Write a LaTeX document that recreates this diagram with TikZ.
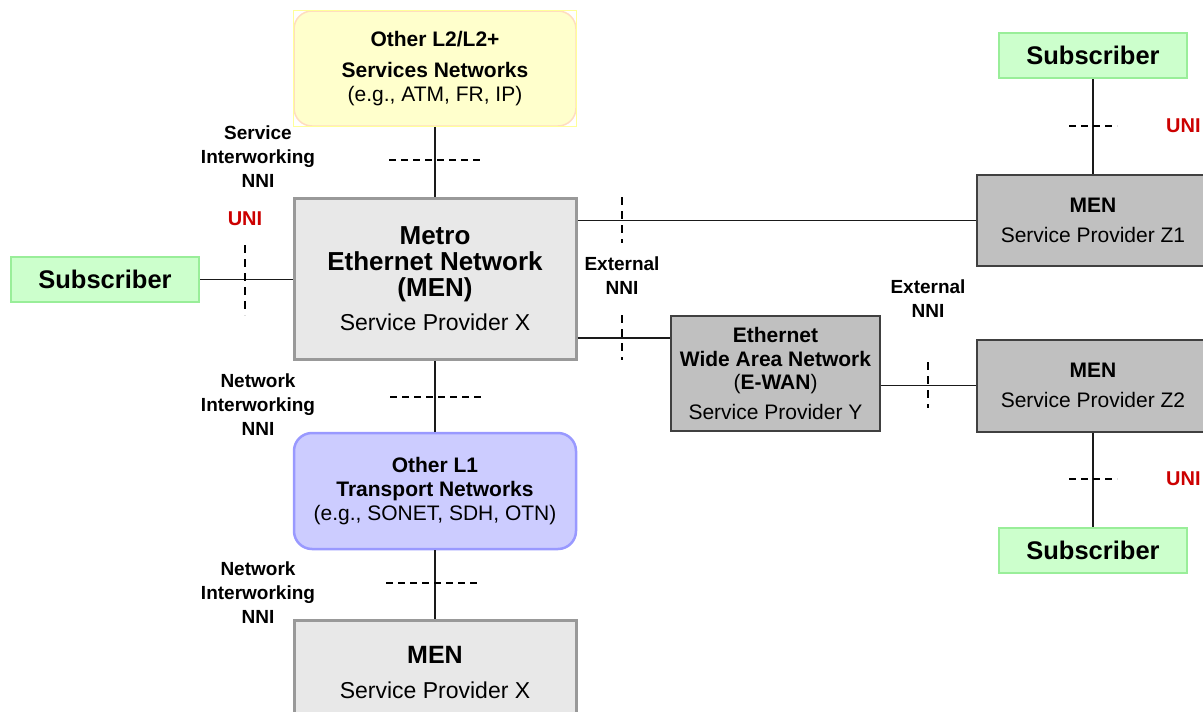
\documentclass[tikz,border=0pt]{standalone}
\usepackage{fontspec}
\setmainfont{Liberation Sans}
\definecolor{menfill}{HTML}{E8E8E8}
\definecolor{menline}{HTML}{999999}
\definecolor{spfill}{HTML}{C0C0C0}
\definecolor{spline}{HTML}{404040}
\definecolor{subfill}{HTML}{CCFFCC}
\definecolor{subline}{HTML}{99EE99}
\definecolor{l2fill}{HTML}{FFFFCC}
\definecolor{l2line}{HTML}{FFDDC0}
\definecolor{l2frame}{HTML}{FFFF99}
\definecolor{l1fill}{HTML}{CCCCFF}
\definecolor{l1line}{HTML}{9999FF}
\definecolor{unired}{HTML}{CC0000}
\definecolor{linkline}{HTML}{1A1A1A}
\begin{document}
\begin{tikzpicture}[x=1pt,y=-1pt,line width=1.6pt,
  font=\fontsize{21}{23.5}\selectfont,
  netbox/.style={align=center,inner sep=0pt,minimum width=282pt},
  menbox/.style={netbox,draw=menline,fill=menfill,line width=3pt},
  l2box/.style={netbox,draw=l2line,fill=l2fill,line width=1.5pt,
    rounded corners=18pt,minimum height=115pt},
  l1box/.style={netbox,draw=l1line,fill=l1fill,line width=2.5pt,
    rounded corners=18pt,minimum height=116pt},
  spbox/.style={draw=spline,fill=spfill,line width=2pt,align=center,inner sep=0pt},
  subbox/.style={draw=subline,fill=subfill,line width=2pt,minimum width=188pt,
    minimum height=45pt,font=\fontsize{25.5}{28}\selectfont\bfseries},
  iflabel/.style={align=center,font=\fontsize{19}{24}\selectfont\bfseries},
  unilabel/.style={iflabel,text=unired,font=\fontsize{20}{24}\selectfont\bfseries},
  link/.style={draw=linkline,line width=1.8pt},
  ifmark/.style={line width=1.5pt,dash pattern=on 7pt off 5pt},
  ifmarkv/.style={line width=2pt,dash pattern=on 8pt off 6pt}]
  \useasboundingbox (0,0) rectangle (1203,712);

  % provider X and the networks stacked on it
  \node[l2box] (l2) at (435,68.5)
    {\textbf{Other L2/L2+}\\[7.5pt]\textbf{Services Networks}\\(e.g., ATM, FR, IP)};
  \draw[line width=1pt,l2frame] (l2.south west) rectangle (l2.north east);
  \node[menbox,minimum height=161pt,font=\fontsize{26}{26}\selectfont] (menx) at (435,279)
    {\textbf{Metro}\\\textbf{Ethernet Network}\\\textbf{(MEN)}\\[8pt]%
     {\fontsize{23}{23}\selectfont Service Provider X}};
  \node[l1box,font=\fontsize{21}{24}\selectfont] (l1) at (435,491)
    {\textbf{Other L1}\\\textbf{Transport Networks}\\(e.g., SONET, SDH, OTN)};
  \node[menbox,minimum height=105pt] (menxb) at (435,672.5)
    {\fontsize{25}{25}\selectfont\textbf{MEN}\\[12pt]%
     \fontsize{23}{23}\selectfont Service Provider X};
  \node[subbox] (subx) at (105,279.5) {Subscriber};

  % providers Y, Z1, Z2
  \node[spbox,minimum width=209pt,minimum height=115pt] (ewan) at (775.5,373.5)
    {\textbf{Ethernet}\\\textbf{Wide Area Network}\\(\textbf{E-WAN})\\[6pt]Service Provider Y};
  \node[spbox,minimum width=232pt,minimum height=91pt] (menz1) at (1093,220.5)
    {\textbf{MEN}\\[6.5pt]Service Provider Z1};
  \node[spbox,minimum width=232pt,minimum height=92pt] (menz2) at (1093,385.5)
    {\textbf{MEN}\\[6.5pt]Service Provider Z2};
  \node[subbox] (subz1) at (1093,55.5) {Subscriber};
  \node[subbox] (subz2) at (1093,550.5) {Subscriber};

  % links
  \coordinate (ewanlink) at (622,338);
  \draw[link] (l2) -- (menx);
  \draw[link] (menx) -- (l1);
  \draw[link] (l1) -- (menxb);
  \draw[link] (subx.east) -- (subx.east -| menx.west);
  \draw[link] (menx.east |- menz1) -- (menz1.west);
  \draw[link] (menx.east |- ewanlink) -- (ewan.west |- ewanlink);
  \draw[link] (ewan.east |- menz2) -- (menz2.west);
  \draw[link] (subz1) -- (menz1);
  \draw[link] (menz2) -- (subz2);

  % interface marks
  \foreach \y/\xa/\xb in {160/389/484,397/390/485,583/386/481,126/1069/1117,479/1069/1117}
    \draw[ifmark] (\xa,\y) -- (\xb,\y);
  \foreach \x/\ya/\yb in {245/245/315,622/197/243,622/315/360,928/362/408}
    \draw[ifmarkv] (\x,\ya) -- (\x,\yb);

  \node[iflabel] (sinni) at (258,157) {Service\\Interworking\\NNI};
  \node[iflabel] (ninni1) at (258,405) {Network\\Interworking\\NNI};
  \node[iflabel] (ninni2) at (258,593) {Network\\Interworking\\NNI};
  \node[iflabel] (enni1) at (622,276) {External\\NNI};
  \node[iflabel] (enni2) at (928,299) {External\\NNI};
  \node[unilabel] (unix) at (245,219) {UNI};
  \node[unilabel,anchor=west] (uniz1) at (1162,126) {UNI};
  \node[unilabel,anchor=west] (uniz2) at (1162,479) {UNI};
\end{tikzpicture}
\end{document}
